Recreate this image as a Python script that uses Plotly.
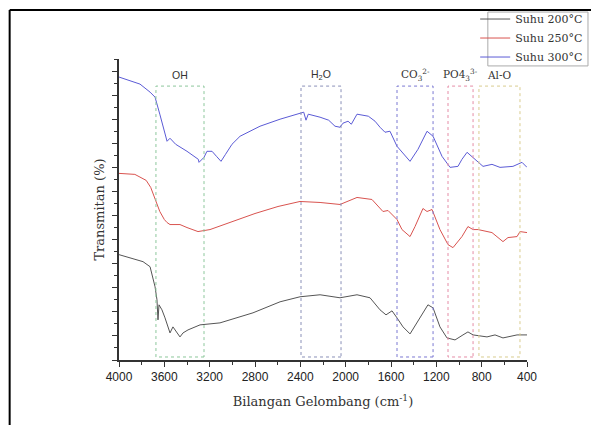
import plotly.graph_objects as go

# Wavenumber (cm-1) and transmittance (arbitrary, offset)
w_200 = [4000, 3788, 3726, 3682, 3665, 3656, 3647, 3621, 3594, 3550, 3524, 3462, 3435, 3391, 3285, 3109,
         2818, 2579, 2403, 2226, 2050, 1900, 1785, 1697, 1644, 1591, 1547, 1494, 1432, 1371, 1274, 1229,
         1168, 1106, 1035, 965, 921, 876, 753, 682, 612, 488, 400]
t_200 = [105, 98, 93, 73, 60, 40, 55, 50, 42, 27, 33, 23, 27, 30, 35, 37,
         47, 58, 63, 65, 62, 65, 62, 50, 45, 49, 42, 33, 26, 37, 55, 52,
         33, 22, 20, 25, 28, 25, 23, 25, 22, 25, 25]

w_250 = [4000, 3860, 3760, 3720, 3680, 3640, 3600, 3576, 3550, 3462, 3400, 3303, 3197, 3100, 3003, 2800,
         2597, 2403, 2226, 2050, 1900, 1768, 1671, 1626, 1547, 1503, 1432, 1388, 1318, 1282, 1238, 1168,
         1097, 1053, 974, 921, 876, 832, 709, 612, 568, 488, 462, 400]
t_250 = [186, 185, 179, 172, 160, 148, 140, 137, 135, 135, 132, 128, 130, 134, 138, 146,
         153, 158, 157, 155, 162, 160, 148, 149, 140, 130, 123, 133, 151, 148, 150, 130,
         115, 112, 123, 133, 130, 130, 127, 118, 122, 123, 128, 127]

w_300 = [4000, 3815, 3726, 3682, 3640, 3600, 3576, 3550, 3500, 3400, 3300, 3294, 3250, 3224, 3179, 3140,
         3100, 3060, 3003, 2932, 2756, 2579, 2403, 2370, 2350, 2330, 2226, 2150, 2094, 2050, 2024, 1979,
         1950, 1900, 1800, 1741, 1697, 1653, 1609, 1547, 1432, 1362, 1282, 1229, 1150, 1079, 1009, 974,
         929, 876, 788, 709, 638, 524, 444, 400]
t_300 = [282, 275, 267, 262, 245, 227, 218, 221, 215, 208, 200, 197, 202, 208, 208, 203,
         198, 205, 215, 223, 233, 240, 246, 247, 239, 245, 242, 239, 233, 232, 236, 238,
         235, 245, 243, 238, 232, 227, 228, 213, 198, 210, 228, 223, 203, 192, 193, 200,
         207, 202, 193, 195, 192, 193, 197, 192]

series_names = ["Suhu 200°C", "Suhu 250°C", "Suhu 300°C"]
series_colors = ["#555555", "#d9534f", "#5b5bd6"]

# Band regions (cm-1)
band_labels = ["OH", "H<sub>2</sub>O", "CO<sub>3</sub><sup>2-</sup>", "PO4<sub>3</sub><sup>3-</sup>", "Al-O"]
band_lo = [3250, 2041, 1229, 876, 462]
band_hi = [3674, 2394, 1547, 1097, 824]
band_colors = ["#8cc79b", "#8a90b8", "#7b78d2", "#e58ca6", "#d9cc8f"]
band_fonts = ["Liberation Sans", "Liberation Sans", "DejaVu Serif", "DejaVu Serif", "DejaVu Serif"]

fig = go.Figure()
for w, t, n, c in zip([w_200, w_250, w_300], [t_200, t_250, t_300], series_names, series_colors):
    fig.add_trace(go.Scatter(x=w, y=t, mode="lines", name=n, line=dict(color=c, width=1)))

for lab, lo, hi, col, fnt in zip(band_labels, band_lo, band_hi, band_colors, band_fonts):
    fig.add_shape(type="rect", x0=lo, x1=hi, y0=3, y1=273, xref="x", yref="y",
                  line=dict(color=col, width=1, dash="dot"))
    fig.add_annotation(x=(lo + hi) / 2, y=284, text=lab, showarrow=False, xref="x", yref="y",
                       font=dict(family=fnt, size=10.5, color="#333333"))

# outer frame
fig.add_shape(type="line", xref="paper", yref="paper", x0=-0.268, x1=1.25, y0=1.163, y1=1.163,
              line=dict(color="black", width=2))
fig.add_shape(type="line", xref="paper", yref="paper", x0=-0.268, x1=-0.268, y0=1.163, y1=-0.3,
              line=dict(color="black", width=2))
# legend box
fig.add_shape(type="rect", xref="paper", yref="paper", x0=0.904, x1=1.1495, y0=0.977, y1=1.156,
              line=dict(color="#aaaaaa", width=1), fillcolor="white", layer="above")

fig.update_layout(
    width=591, height=417,
    margin=dict(l=111, r=72, t=51, b=65, autoexpand=False),
    paper_bgcolor="white", plot_bgcolor="white",
    showlegend=True,
    legend=dict(x=0.873, y=1.181, xanchor="left", yanchor="top",
                borderwidth=0, bgcolor="rgba(0,0,0,0)",
                font=dict(family="DejaVu Serif", size=11, color="#333333"),
                tracegroupgap=0, itemwidth=30),
    xaxis=dict(range=[4000, 400], autorange=False, tickmode="array",
               tickvals=[4000, 3600, 3200, 2800, 2400, 2000, 1600, 1200, 800, 400],
               ticks="outside", ticklen=5, tickwidth=1, tickcolor="#333333",
               minor=dict(dtick=200, ticks="outside", ticklen=3, tickcolor="#333333"),
               showline=True, linecolor="#333333", linewidth=1.5, showgrid=False, zeroline=False,
               tickfont=dict(family="Liberation Sans", size=12, color="#222222"),
               title=dict(text="Bilangan Gelombang (cm<sup>-1</sup>)",
                          font=dict(family="DejaVu Serif", size=13, color="#333333"), standoff=14)),
    yaxis=dict(range=[0, 300], autorange=False, tick0=0, dtick=24,
               ticks="outside", ticklen=5, tickcolor="#333333", showticklabels=False,
               minor=dict(dtick=12, ticks="outside", ticklen=3, tickcolor="#333333"),
               showline=True, linecolor="#333333", linewidth=1.5, showgrid=False, zeroline=False,
               title=dict(text="Transmitan (%)",
                          font=dict(family="DejaVu Serif", size=13, color="#333333"), standoff=5)),
)

fig.write_html("out.html")
